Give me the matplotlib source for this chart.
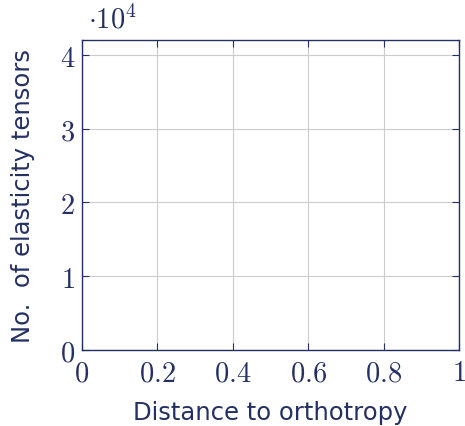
import matplotlib
matplotlib.use("Agg")
import matplotlib.pyplot as plt
import numpy as np

# empty histogram axes: only the frame, ticks and grid are drawn
x_ticks = [0, 0.2, 0.4, 0.6, 0.8, 1]
x_labels = ["0", "0.2", "0.4", "0.6", "0.8", "1"]
y_ticks = [0, 1, 2, 3, 4]
y_labels = ["0", "1", "2", "3", "4"]
x_limits = [0, 1]
y_limits = [0, 4.2]

ink = "#243063"
plt.rcParams["mathtext.fontset"] = "cm"

fig = plt.figure(figsize=(4.65, 4.27), dpi=100)
ax = fig.add_axes([82 / 465, 1 - 351 / 427, 377 / 465, 310 / 427])

ax.set_xlim(x_limits)
ax.set_ylim(y_limits)
ax.set_xticks(x_ticks)
ax.set_xticklabels(["$" + s + "$" for s in x_labels], fontsize=20.5, color=ink)
ax.set_yticks(y_ticks)
ax.set_yticklabels(["$" + s + "$" for s in y_labels], fontsize=20.5, color=ink)

ax.grid(True, color="#cccccc", linewidth=0.8)
ax.tick_params(direction="in", top=True, right=True, length=5, width=0.8,
               color=ink)
ax.tick_params(axis="x", pad=6)
ax.tick_params(axis="y", pad=5)
for s in ax.spines.values():
    s.set_color(ink)
    s.set_linewidth(1.0)

ax.set_xlabel("Distance to orthotropy", fontsize=17.5, color=ink, labelpad=10)
ax.set_ylabel("No.  of elasticity tensors", fontsize=17.5, color=ink, labelpad=18)
ax.text(0.015, 1.02, r"$\cdot10^4$", transform=ax.transAxes, fontsize=20.5,
        color=ink, ha="left", va="bottom")

fig.savefig("out.png", dpi=100)
